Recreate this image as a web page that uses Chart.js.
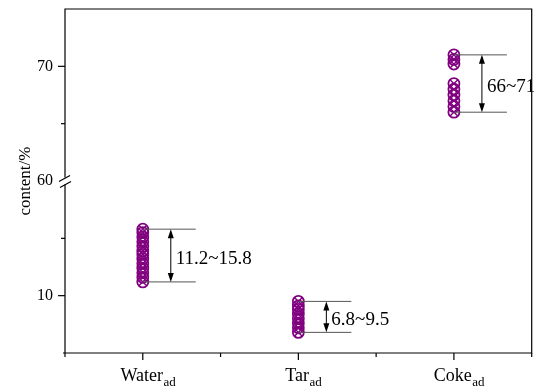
<!DOCTYPE html>
<html>
<head>
<meta charset="utf-8">
<script src="https://cdn.jsdelivr.net/npm/chart.js@4.4.0/dist/chart.umd.min.js"></script>
<style>
  html, body { margin: 0; padding: 0; background: #fff; }
</style>
</head>
<body>
<canvas id="myChart" width="539" height="388"></canvas>
<script>
// data
const categories = ["Water", "Tar", "Coke"];
const categorySubs = ["ad", "ad", "ad"];
const waterValues = [11.2, 11.6, 12.0, 12.4, 12.8, 13.2, 13.6, 13.9, 14.3, 14.7, 15.1, 15.5, 15.8];
const tarValues = [6.8, 7.2, 7.6, 8.0, 8.4, 8.8, 9.1, 9.5];
const cokeValues = [66, 66.5, 67, 67.5, 68, 68.5, 70.2, 70.6, 71];
const rangeLow = [11.2, 6.8, 66];
const rangeHigh = [15.8, 9.5, 71];
const rangeLabels = ["11.2~15.8", "6.8~9.5", "66~71"];
const yTickValues = [10, 15, 60, 65, 70];
const yTickLabels = ["10", "", "60", "", "70"];

// broken axis: 5..20 below the break, 60..75 above it
const breakFrom = 20, breakTo = 60;
const toAxis = (v) => (v >= breakTo ? v - (breakTo - breakFrom) : v);

const purple = "#800080";
const serif = "'Liberation Serif', 'Times New Roman', serif";

let points = [];
[waterValues, tarValues, cokeValues].forEach((vals, i) => {
  vals.forEach((v) => points.push({ x: i + 1, y: toAxis(v) }));
});

const frame = {
  id: "frame",
  afterDatasetsDraw(chart) {
    const { ctx, chartArea: a, scales } = chart;
    const x = scales.x, y = scales.y;
    ctx.save();

    // range guides
    categories.forEach((c, i) => {
      const cx = x.getPixelForValue(i + 1);
      const yLo = y.getPixelForValue(toAxis(rangeLow[i]));
      const yHi = y.getPixelForValue(toAxis(rangeHigh[i]));
      ctx.strokeStyle = "#555";
      ctx.lineWidth = 1;
      ctx.beginPath();
      ctx.moveTo(cx, yLo); ctx.lineTo(cx + 53, yLo);
      ctx.moveTo(cx, yHi); ctx.lineTo(cx + 53, yHi);
      ctx.stroke();
      const ax = cx + 28;
      ctx.strokeStyle = "#000";
      ctx.beginPath();
      ctx.moveTo(ax, yHi + 4); ctx.lineTo(ax, yLo - 4);
      ctx.stroke();
      ctx.fillStyle = "#000";
      ctx.beginPath();
      ctx.moveTo(ax, yHi); ctx.lineTo(ax - 3, yHi + 9); ctx.lineTo(ax + 3, yHi + 9); ctx.closePath();
      ctx.moveTo(ax, yLo); ctx.lineTo(ax - 3, yLo - 9); ctx.lineTo(ax + 3, yLo - 9); ctx.closePath();
      ctx.fill();
      ctx.font = "19px " + serif;
      ctx.textAlign = "left";
      ctx.textBaseline = "middle";
      ctx.fillText(rangeLabels[i], cx + 33, (yLo + yHi) / 2 + 3);
    });

    // box with broken left axis
    const by = y.getPixelForValue(breakFrom);
    ctx.strokeStyle = "#000";
    ctx.lineWidth = 1.2;
    ctx.beginPath();
    ctx.moveTo(a.left, a.bottom); ctx.lineTo(a.left, by + 3.5);
    ctx.moveTo(a.left, by - 3.5); ctx.lineTo(a.left, a.top);
    ctx.lineTo(a.right, a.top); ctx.lineTo(a.right, a.bottom); ctx.lineTo(a.left - 2, a.bottom);
    ctx.stroke();
    ctx.beginPath();
    ctx.moveTo(a.left - 6, by + 0.5); ctx.lineTo(a.left + 5, by - 5.5);
    ctx.moveTo(a.left - 5, by + 6.5); ctx.lineTo(a.left + 6, by + 0.5);
    ctx.stroke();

    // y ticks
    yTickValues.forEach((v, i) => {
      if (v === breakTo) return;
      const py = y.getPixelForValue(toAxis(v));
      const len = yTickLabels[i] ? 7 : 4;
      ctx.beginPath();
      ctx.moveTo(a.left - len, py); ctx.lineTo(a.left, py);
      ctx.stroke();
    });

    // x ticks
    for (let v = 0.5; v <= categories.length + 0.5; v += 0.5) {
      const px = x.getPixelForValue(v);
      const len = Number.isInteger(v) ? 7 : 4;
      ctx.beginPath();
      ctx.moveTo(px, a.bottom); ctx.lineTo(px, a.bottom + len);
      ctx.stroke();
    }

    // x labels with subscripts
    ctx.fillStyle = "#000";
    ctx.textBaseline = "alphabetic";
    ctx.textAlign = "left";
    categories.forEach((c, i) => {
      const cx = x.getPixelForValue(i + 1);
      ctx.font = "18px " + serif;
      const w1 = ctx.measureText(c).width;
      ctx.font = "13px " + serif;
      const w2 = ctx.measureText(categorySubs[i]).width;
      const sx = cx - (w1 + w2) / 2 + 5;
      ctx.font = "18px " + serif;
      ctx.fillText(c, sx, 381);
      ctx.font = "13px " + serif;
      ctx.fillText(categorySubs[i], sx + w1 + 0.5, 386);
    });
    ctx.restore();
  },
};

const chart = new Chart(document.getElementById("myChart"), {
  type: "scatter",
  data: {
    datasets: [
      {
        data: points,
        pointStyle: "circle",
        pointRadius: 5.5,
        pointBorderWidth: 1.8,
        pointBorderColor: purple,
        pointBackgroundColor: "rgba(0,0,0,0)",
      },
      {
        data: points,
        pointStyle: "crossRot",
        pointRadius: 5.5,
        pointBorderWidth: 1.4,
        pointBorderColor: purple,
      },
    ],
  },
  options: {
    responsive: false,
    animation: false,
    layout: { padding: { top: 9, right: 6, left: 0, bottom: 0 } },
    plugins: { legend: { display: false }, tooltip: { enabled: false } },
    scales: {
      x: {
        type: "linear",
        min: 0.5,
        max: categories.length + 0.5,
        grid: { display: false },
        border: { display: false },
        ticks: { display: false },
        afterFit: (s) => { s.height = 35; s.paddingLeft = 0; s.paddingRight = 0; },
      },
      y: {
        type: "linear",
        min: 5,
        max: 35,
        grid: { display: false, drawTicks: false },
        border: { display: false },
        afterBuildTicks: (s) => {
          s.ticks = yTickValues.map((v) => ({ value: toAxis(v) }));
        },
        ticks: {
          padding: 12,
          color: "#000",
          font: { family: serif, size: 16 },
          callback: (v) => {
            const i = yTickValues.findIndex((t) => toAxis(t) === v);
            return i >= 0 ? yTickLabels[i] : "";
          },
        },
        title: {
          display: true,
          text: "content/%",
          color: "#000",
          font: { family: serif, size: 17 },
          padding: { top: 15, bottom: 0 },
        },
        afterFit: (s) => { s.width = 65; s.paddingTop = 0; s.paddingBottom = 0; },
      },
    },
  },
  plugins: [frame],
});
</script>
</body>
</html>
